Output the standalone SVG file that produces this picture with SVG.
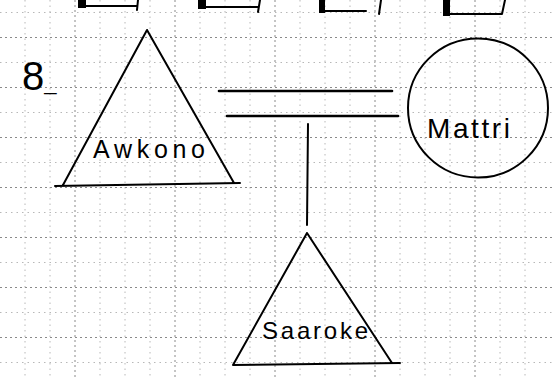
<svg xmlns="http://www.w3.org/2000/svg" width="552" height="378" viewBox="0 0 552 378">
<style>
.bg{fill:#fff}
.gmin{stroke:#b8b8b8;stroke-width:1;stroke-dasharray:1.5 4;fill:none}
.gmaj{stroke:#8a8a8a;stroke-width:1;stroke-dasharray:2 3;fill:none}
.ink{stroke:#000;stroke-width:2;fill:none;stroke-linejoin:round;stroke-linecap:round}
.bar{stroke:#000;stroke-width:2.6;fill:none;stroke-linecap:round}
.lbl{font-family:"Liberation Sans","DejaVu Sans",sans-serif;fill:#000}
</style>
<rect class="bg" x="0" y="0" width="552" height="378"/>
<g id="grid">
<path class="gmin" d="M25 0V378M125 0V378M225 0V378M325 0V378M425 0V378M525 0V378M50 0V378M100 0V378M150 0V378M200 0V378M250 0V378M300 0V378M350 0V378M400 0V378M450 0V378M500 0V378"/>
<path class="gmaj" d="M75 0V378M175 0V378M275 0V378M375 0V378M475 0V378"/>
<path class="gmin" d="M0 12.5H552M0 62.5H552M0 112.5H552M0 162.5H552M0 212.5H552M0 262.5H552M0 312.5H552M0 362.5H552"/>
<path class="gmaj" d="M0 37.5H552M0 87.5H552M0 137.5H552M0 187.5H552M0 237.5H552M0 287.5H552M0 337.5H552"/>
</g>
<g id="top-boxes">
<rect x="78" y="0" width="8" height="8" fill="#000"/>
<path class="ink" stroke-width="1.3" d="M86 6H136M138 0L137 10"/>
<rect x="198" y="0" width="8" height="9" fill="#000"/>
<path class="ink" stroke-width="1.3" d="M206 7H258M260 0L258 12"/>
<rect x="319" y="0" width="6" height="13" fill="#000"/>
<path class="ink" stroke-width="1.5" d="M325 11H366M381 0L379 14"/>
<rect x="443" y="0" width="7" height="16" fill="#000"/>
<path class="ink" stroke-width="2" d="M450 14H502L505 0"/>
</g>
<text id="number" class="lbl" x="22" y="90" font-size="40">8<tspan font-size="22">_</tspan></text>
<g id="connectors">
<line class="bar" x1="219" y1="91" x2="392" y2="91"/>
<line class="bar" x1="227" y1="116" x2="398" y2="116"/>
<line class="ink" x1="308" y1="124" x2="307" y2="225"/>
</g>
<g id="awkono">
<path class="ink" d="M147 30L234 183M147 30L63 185M55 186L240 183"/>
<text class="lbl" x="93" y="158" font-size="25" textLength="112" lengthAdjust="spacing">Awkono</text>
</g>
<g id="mattri">
<ellipse class="ink" cx="478" cy="108" rx="70" ry="69.5"/>
<text class="lbl" x="427" y="138" font-size="28" textLength="83" lengthAdjust="spacing">Mattri</text>
</g>
<g id="saaroke">
<path class="ink" d="M307 233L392 363M307 233L233 365M233 365L400 363"/>
<text class="lbl" x="262" y="339" font-size="24" textLength="106" lengthAdjust="spacing">Saaroke</text>
</g>
</svg>
